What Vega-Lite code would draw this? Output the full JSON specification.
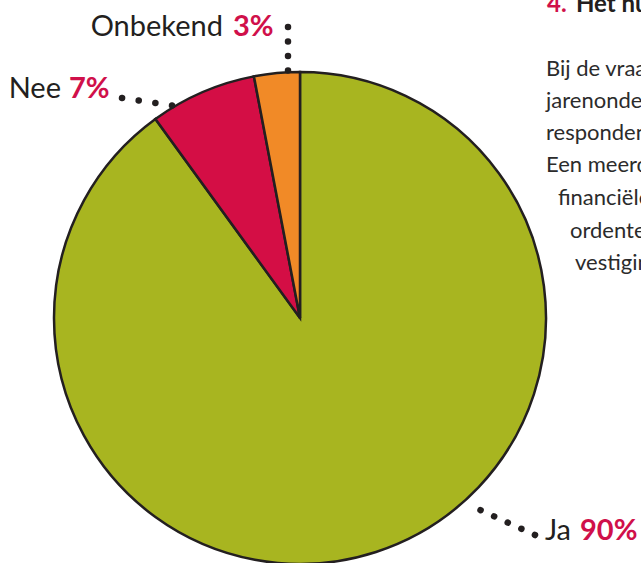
{
  "$schema": "https://vega.github.io/schema/vega-lite/v6.json",
  "width": 641,
  "height": 563,
  "autosize": "none",
  "padding": 0,
  "background": "white",
  "config": {"view": {"stroke": null}},
  "layer": [
    {
      "data": {"values": [
        {"answer": "Ja", "value": 90, "seq": 1},
        {"answer": "Nee", "value": 7, "seq": 2},
        {"answer": "Onbekend", "value": 3, "seq": 3}
      ]},
      "mark": {"type": "arc", "outerRadius": 246, "stroke": "#231f20", "strokeWidth": 2.5},
      "encoding": {
        "theta": {"field": "value", "type": "quantitative", "stack": true},
        "order": {"field": "seq", "type": "quantitative"},
        "color": {"field": "answer", "type": "nominal", "scale": {"domain": ["Ja", "Nee", "Onbekend"], "range": ["#a8b520", "#d40e45", "#f18a27"]}, "legend": null},
        "x": {"datum": 300, "type": "quantitative", "scale": {"domain": [0, 641], "nice": false}, "axis": null},
        "y": {"datum": 318, "type": "quantitative", "scale": {"domain": [0, 563], "nice": false, "reverse": true}, "axis": null}
      }
    },
    {
      "data": {"values": [
        {"label": "Onbekend", "px": 288, "py": 27, "seq": 1},
        {"label": "Onbekend", "px": 288, "py": 71, "seq": 2},
        {"label": "Nee", "px": 122, "py": 98, "seq": 1},
        {"label": "Nee", "px": 172, "py": 105.5, "seq": 2},
        {"label": "Ja", "px": 535, "py": 535, "seq": 1},
        {"label": "Ja", "px": 467, "py": 504, "seq": 2}
      ]},
      "mark": {"type": "line", "color": "#231f20", "strokeWidth": 6.5, "strokeCap": "round"},
      "encoding": {
        "x": {"field": "px", "type": "quantitative", "scale": {"domain": [0, 641], "nice": false}, "axis": null},
        "y": {"field": "py", "type": "quantitative", "scale": {"domain": [0, 563], "nice": false, "reverse": true}, "axis": null},
        "order": {"field": "seq", "type": "quantitative"},
        "strokeDash": {"field": "label", "type": "nominal", "scale": {"domain": ["Onbekend", "Nee", "Ja"], "range": [[0.1, 14.4], [0.1, 16.75], [0.1, 14.85]]}, "legend": null}
      }
    },
    {
      "data": {"values": [
        {"t": "Onbekend", "px": 223, "py": 36},
        {"t": "Nee", "px": 61, "py": 98},
        {"t": "Ja", "px": 571, "py": 540}
      ]},
      "mark": {"type": "text", "align": "right", "baseline": "alphabetic", "font": "Lato", "fontSize": 29, "color": "#231f20"},
      "encoding": {
        "x": {"field": "px", "type": "quantitative", "scale": {"domain": [0, 641], "nice": false}, "axis": null},
        "y": {"field": "py", "type": "quantitative", "scale": {"domain": [0, 563], "nice": false, "reverse": true}, "axis": null},
        "text": {"field": "t"}
      }
    },
    {
      "data": {"values": [
        {"t": "3%", "px": 233, "py": 36},
        {"t": "7%", "px": 69, "py": 98},
        {"t": "90%", "px": 580, "py": 540}
      ]},
      "mark": {"type": "text", "align": "left", "baseline": "alphabetic", "font": "Lato", "fontSize": 29, "fontWeight": "bold", "color": "#d0104a"},
      "encoding": {
        "x": {"field": "px", "type": "quantitative", "scale": {"domain": [0, 641], "nice": false}, "axis": null},
        "y": {"field": "py", "type": "quantitative", "scale": {"domain": [0, 563], "nice": false, "reverse": true}, "axis": null},
        "text": {"field": "t"}
      }
    },
    {
      "data": {"values": [
        {"t": "4.", "px": 547, "py": 12}
      ]},
      "mark": {"type": "text", "align": "left", "baseline": "alphabetic", "font": "Lato", "fontSize": 24, "fontWeight": "bold", "color": "#d0104a"},
      "encoding": {
        "x": {"field": "px", "type": "quantitative", "scale": {"domain": [0, 641], "nice": false}, "axis": null},
        "y": {"field": "py", "type": "quantitative", "scale": {"domain": [0, 563], "nice": false, "reverse": true}, "axis": null},
        "text": {"field": "t"}
      }
    },
    {
      "data": {"values": [
        {"t": "Het huidige", "px": 576, "py": 12}
      ]},
      "mark": {"type": "text", "align": "left", "baseline": "alphabetic", "font": "Lato", "fontSize": 24, "fontWeight": "bold", "color": "#231f20"},
      "encoding": {
        "x": {"field": "px", "type": "quantitative", "scale": {"domain": [0, 641], "nice": false}, "axis": null},
        "y": {"field": "py", "type": "quantitative", "scale": {"domain": [0, 563], "nice": false, "reverse": true}, "axis": null},
        "text": {"field": "t"}
      }
    },
    {
      "data": {"values": [
        {"t": "Bij de vraag of", "px": 546, "py": 76},
        {"t": "jarenonderzoek", "px": 546, "py": 108},
        {"t": "respondenten", "px": 546, "py": 140},
        {"t": "Een meerderheid", "px": 546, "py": 172},
        {"t": "financiële", "px": 558, "py": 205},
        {"t": "ordenten", "px": 570, "py": 238},
        {"t": "vestiging", "px": 575, "py": 270}
      ]},
      "mark": {"type": "text", "align": "left", "baseline": "alphabetic", "font": "Lato", "fontSize": 22, "color": "#2b2b2b"},
      "encoding": {
        "x": {"field": "px", "type": "quantitative", "scale": {"domain": [0, 641], "nice": false}, "axis": null},
        "y": {"field": "py", "type": "quantitative", "scale": {"domain": [0, 563], "nice": false, "reverse": true}, "axis": null},
        "text": {"field": "t"}
      }
    }
  ]
}
